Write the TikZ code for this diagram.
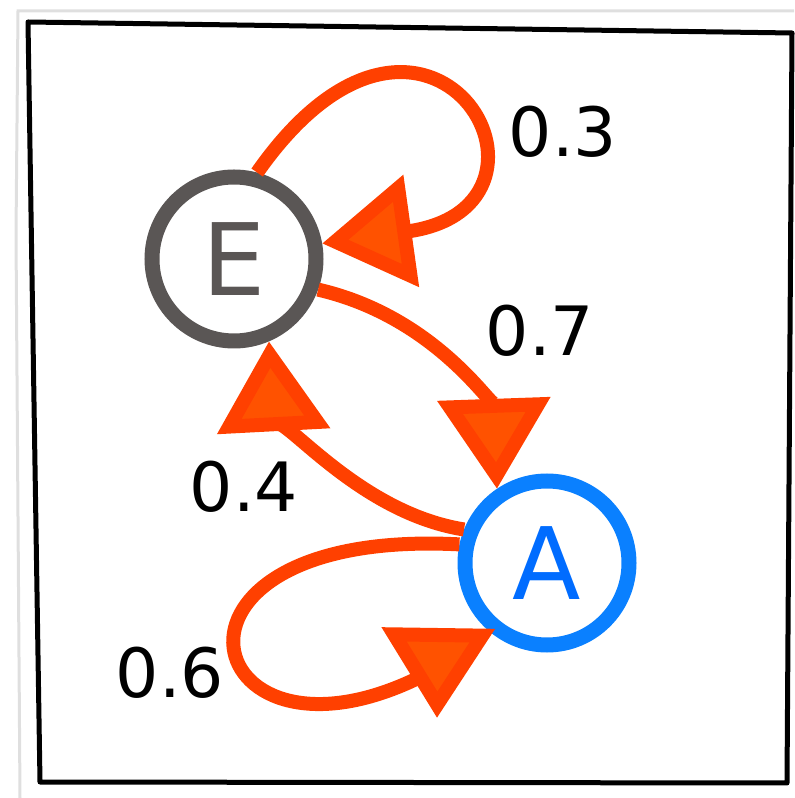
\documentclass[tikz,border=0pt]{standalone}
\usepackage{fontspec}
\setmainfont{DejaVu Sans}
\usepackage{tikz}
\usetikzlibrary{arrows.meta}
\definecolor{stategray}{RGB}{90,86,85}
\definecolor{stateblue}{RGB}{10,128,255}
\definecolor{letterblue}{RGB}{0,108,255}
\definecolor{edgecol}{RGB}{255,64,0}
\definecolor{tipfill}{RGB}{255,82,0}

\begin{document}
\begin{tikzpicture}[x=0.5pt,y=0.5pt,
    state/.style={circle,line width=7.5pt,minimum size=82pt,inner sep=0pt,
      font=\fontsize{50}{60}\selectfont},
    lbl/.style={font=\fontsize{34}{40}\selectfont,inner sep=0pt},
    edge/.style={edgecol,line width=7pt},
    tipped/.style={-{Triangle[length=45pt,width=55pt,line width=7pt,fill=tipfill]}}]
  \useasboundingbox (0,0) rectangle (794,798);
  \draw[gray!25,line width=1.5pt] (20,0) -- (16,563) -- (18,787) -- (794,787);
  \draw[line width=2.5pt,line join=round] (28,776) -- (792,765) -- (787,15) -- (40,16) -- cycle;

  \node[state,draw=stategray,text=stategray] (E) at (234,539) {E};
  \node[state,draw=stateblue,text=letterblue] (A) at (547,235) {A};

  \coordinate (loopend) at (430,126);
  \coordinate (loopbase) at (438,150);
  \coordinate (looptip) at (437,80);

  \draw[edge,tipped] (E.75) to[out=55,in=8,out distance=150pt,in distance=135pt] (E.10);
  \draw[edge,tipped] (E.-20) to[out=-13,in=92,out distance=62pt,in distance=38pt] (A.124);
  \draw[edge,tipped] (A.158) to[out=171,in=-87,out distance=58pt,in distance=28pt] (E.-67);
  \draw[edge] (A.168) to[out=177,in=208,out distance=167pt,in distance=130pt] (loopend);
  \draw[edge,tipped,line width=0.1pt] (loopbase) -- (looptip);

  \node[lbl] (p03) at (563,666) {0.3};
  \node[lbl] (p07) at (540,467) {0.7};
  \node[lbl] (p04) at (244,311) {0.4};
  \node[lbl] (p06) at (170,125) {0.6};
\end{tikzpicture}
\end{document}
